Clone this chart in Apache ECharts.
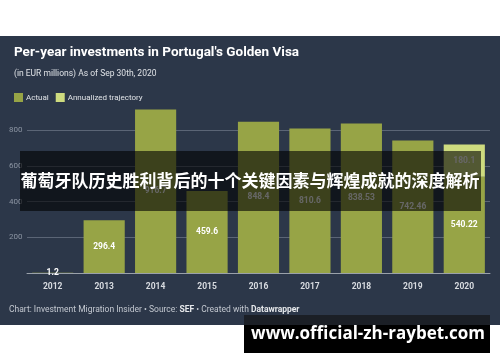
<!DOCTYPE html>
<html><head><meta charset="utf-8">
<script src="https://cdn.jsdelivr.net/npm/echarts@6/dist/echarts.min.js"></script>
<style>html,body{margin:0;padding:0;background:#fff}#c{width:500px;height:362px}</style>
</head><body><div id="c"></div>
<script>
const years = ['2012','2013','2014','2015','2016','2017','2018','2019','2020'];
const actual = [1.2, 296.4, 916.7, 459.6, 848.4, 810.6, 838.53, 742.46, 540.22];
const annualized = ['-','-','-','-','-','-','-','-',180.1];
const yTicks = [0, 200, 400, 600, 800];

const chart = echarts.init(document.getElementById('c'), null, {renderer:'canvas'});
const panel = '#2c3749';
const labelStyle = {show:true, position:'inside', color:'#ffffff', fontSize:8.5, fontWeight:'bold', fontFamily:'Roboto',
  formatter: p => String(p.value)};
chart.setOption({
  animation:false,
  backgroundColor:'#ffffff',
  title:{
    left:9, top:41, itemGap:9,
    text:"Per-year investments in Portugal's Golden Visa",
    textStyle:{color:'#ffffff', fontSize:13.5, fontWeight:'bold', fontFamily:'Roboto'},
    subtext:'(in EUR millions) As of Sep 30th, 2020',
    subtextStyle:{color:'#dfe2e6', fontSize:8.5, fontFamily:'Roboto'}
  },
  legend:{
    left:9, top:88, itemWidth:9, itemHeight:9, itemGap:7, icon:'rect',
    textStyle:{color:'#dfe2e6', fontSize:8, fontFamily:'Roboto', padding:[0,0,0,-2]},
    data:['Actual','Annualized trajectory']
  },
  grid:{left:27, right:10, top:94.7, bottom:89},
  xAxis:{
    type:'category', data:years,
    axisLine:{lineStyle:{color:'#9aa1aa', width:1}},
    axisTick:{show:false},
    axisLabel:{color:'#d8dbe0', fontSize:8.5, fontWeight:'bold', fontFamily:'Roboto', margin:9}
  },
  yAxis:{
    type:'value', min:0, max:1000, interval:200,
    axisLine:{show:false}, axisTick:{show:false},
    axisLabel:{color:'#8c95a3', fontSize:8, fontFamily:'Roboto', showMinLabel:false, showMaxLabel:false,
      align:'left', margin:18,
      formatter: v => yTicks.includes(v) ? String(v) : ''},
    splitLine:{lineStyle:{color:'#5b6576', width:1}, showMaxLine:false, showMinLine:false}
  },
  series:[
    {name:'Actual', type:'bar', stack:'t', data:actual, barCategoryGap:'20%',
     itemStyle:{color:'#97a446'}, label:labelStyle},
    {name:'Annualized trajectory', type:'bar', stack:'t', data:annualized,
     itemStyle:{color:'#cedb7f'}, label:labelStyle}
  ],
  graphic:[
    {type:'rect', z:-10, zlevel:0, silent:true, shape:{x:0, y:36, width:500, height:289}, style:{fill:panel}},
    {type:'text', left:9, top:305, z:10, style:{
      text:'Chart: Investment Migration Insider • Source: {b|SEF} • Created with {b|Datawrapper}',
      fill:'#c3c8d0', fontSize:8.5, fontFamily:'Roboto',
      rich:{b:{fontWeight:'bold', fill:'#e6e8eb', fontSize:8.5, fontFamily:'Roboto'}}}},
    {type:'rect', z:100, silent:true, shape:{x:20, y:151, width:461, height:60}, style:{fill:'rgba(0,0,0,0.6)'}},
    {type:'text', z:101, x:250, y:181, style:{
      text:'葡萄牙队历史胜利背后的十个关键因素与辉煌成就的深度解析',
      fill:'#ffffff', fontSize:17, fontWeight:'bold', fontFamily:'"Noto Sans CJK SC"',
      align:'center', verticalAlign:'middle'}},
    {type:'rect', z:100, silent:true, shape:{x:244, y:315, width:246, height:38}, style:{fill:'#000000'}},
    {type:'rect', z:100, silent:true, shape:{x:244, y:315, width:246, height:10}, style:{fill:'#1b1f26'}},
    {type:'text', z:101, x:368, y:334, style:{
      text:'www.official-zh-raybet.com',
      fill:'#ffffff', fontSize:17, fontWeight:'bold', fontFamily:'"Open Sans"',
      align:'center', verticalAlign:'middle'}}
  ]
});
</script></body></html>
